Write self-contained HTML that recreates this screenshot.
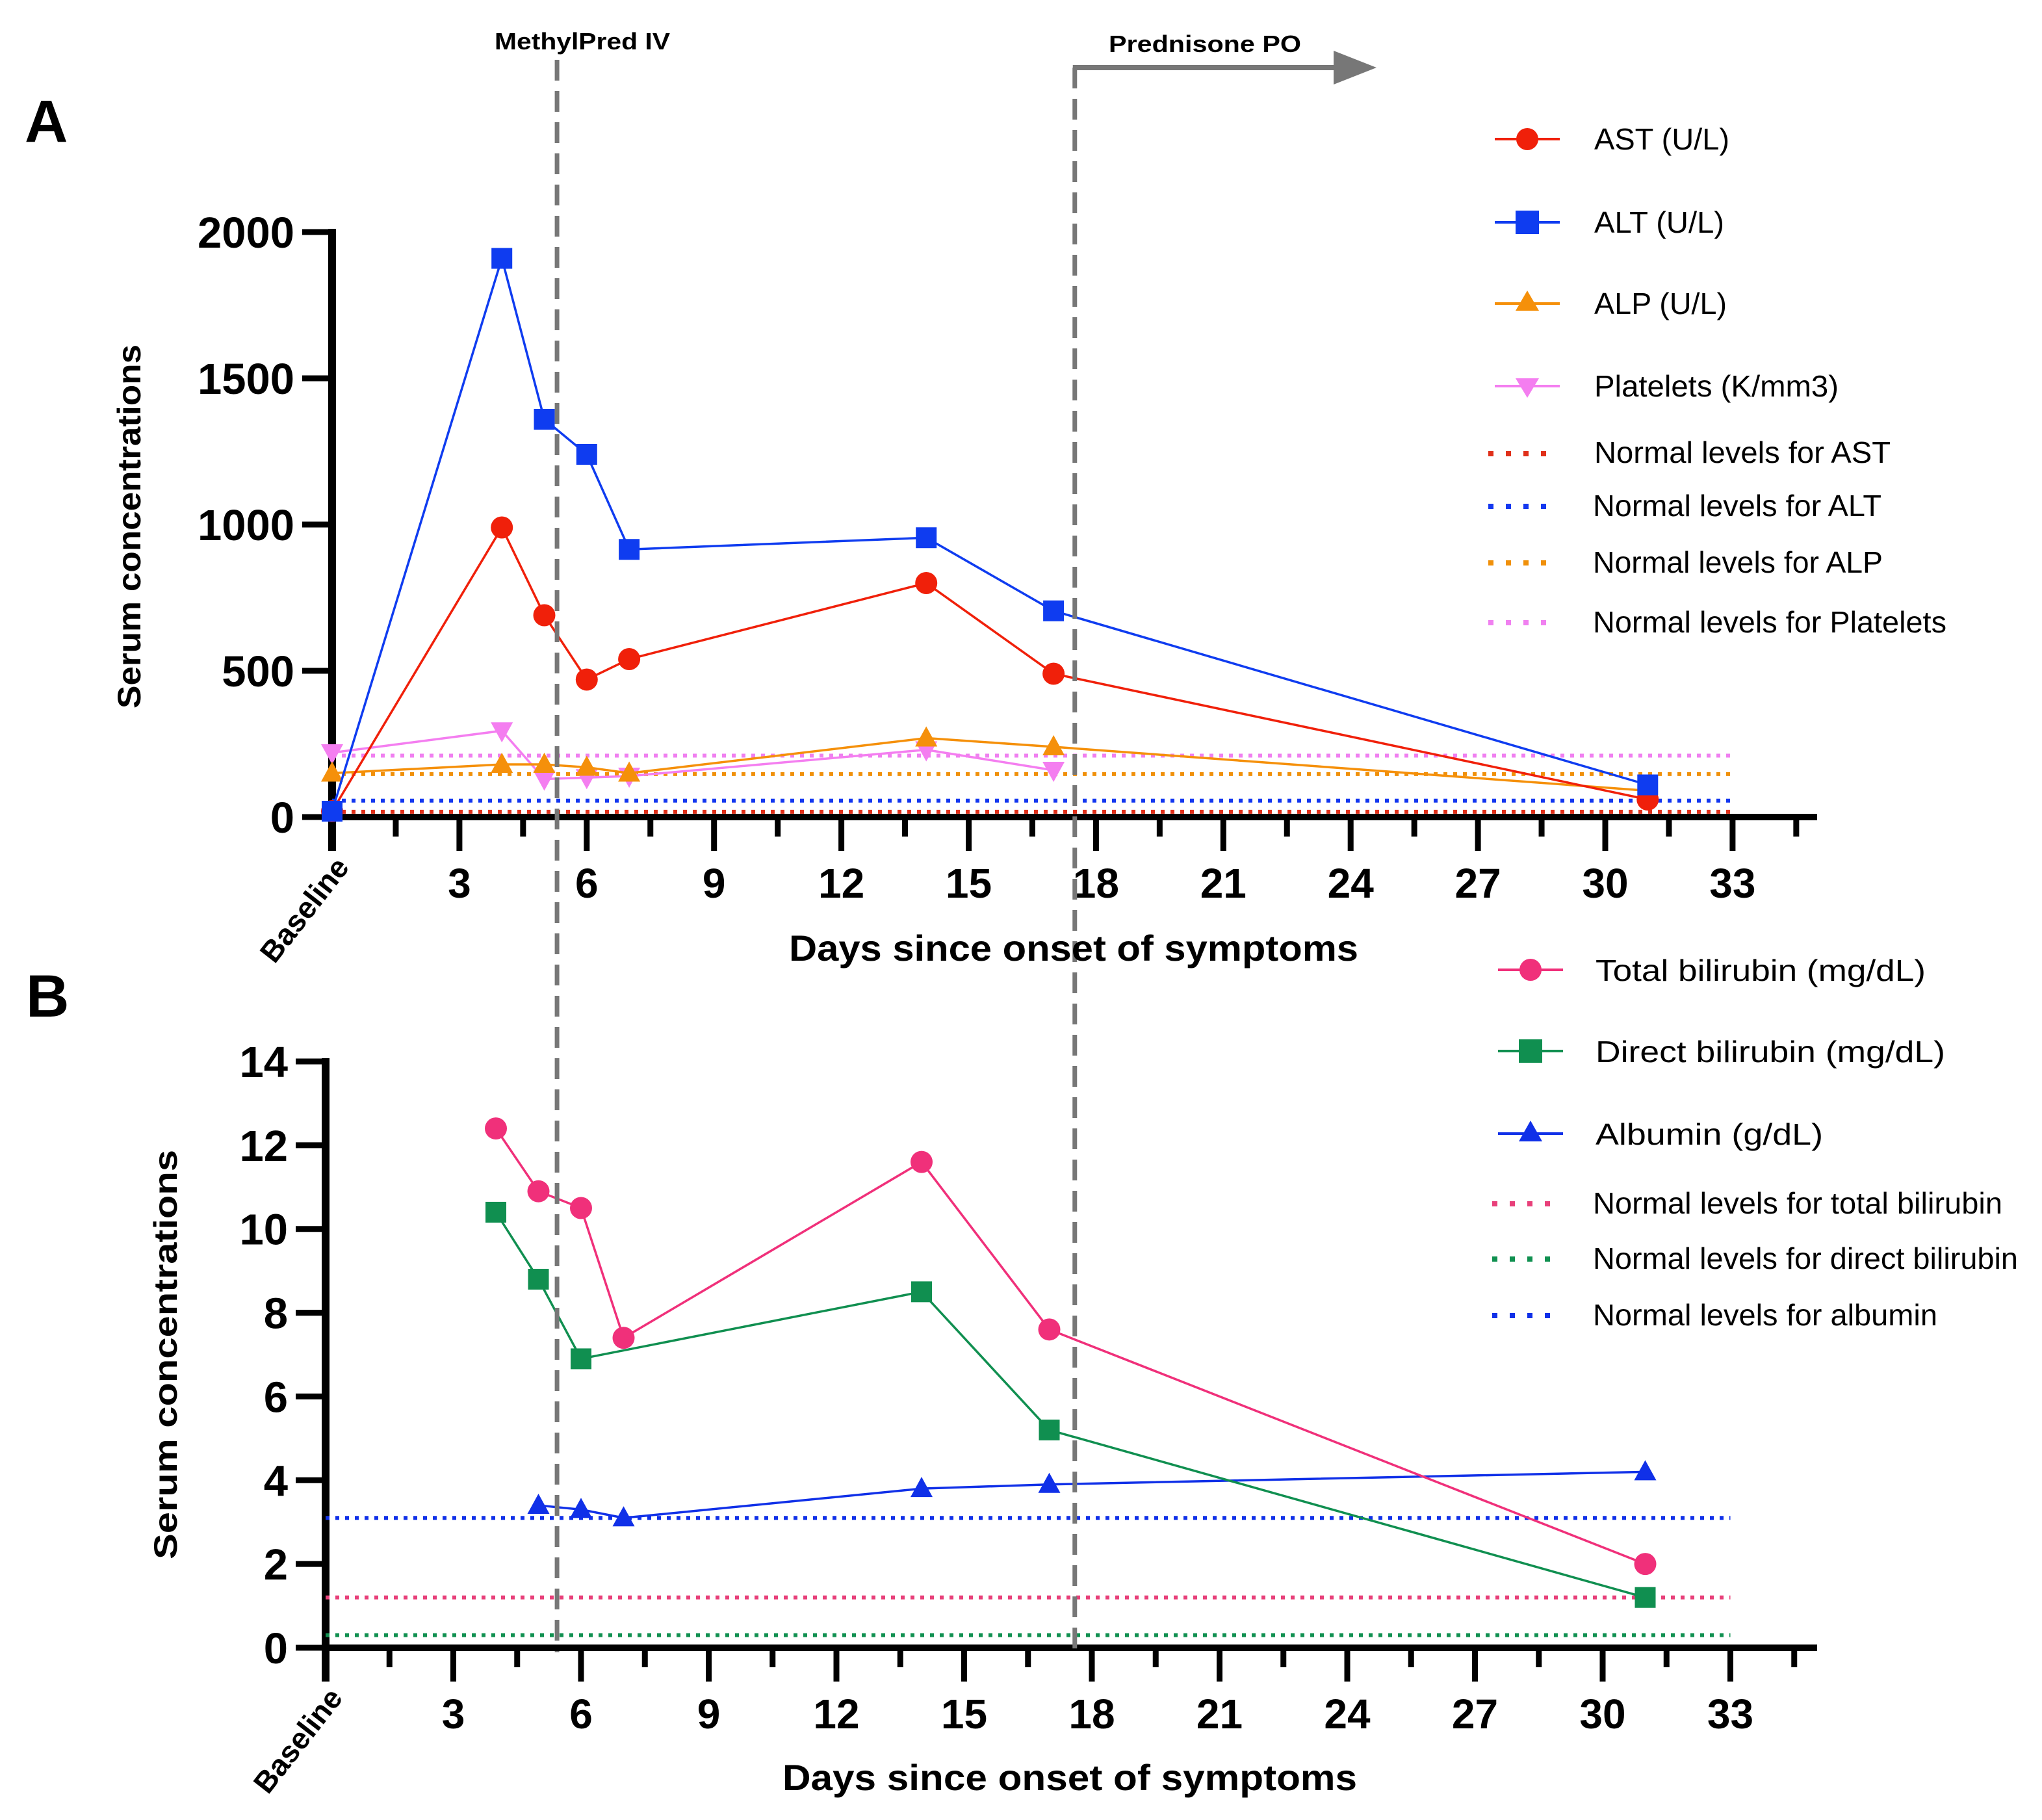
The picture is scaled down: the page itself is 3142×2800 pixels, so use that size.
<!DOCTYPE html>
<html><head><meta charset="utf-8"><style>
html,body{margin:0;padding:0;background:#fff}
svg{display:block}
text{font-family:"Liberation Sans",Arial,sans-serif}
</style></head><body>
<svg id="chart" width="3142" height="2800" viewBox="0 0 3142 2800" xmlns="http://www.w3.org/2000/svg"></svg>
<script>
// ---------- Panel A data ----------
const daysA = [0, 4, 5, 6, 7, 14, 17, 31];
const astValues = [20, 990, 690, 470, 540, 800, 490, 60];
const altValues = [20, 1910, 1360, 1240, 915, 955, 705, 110];
const alpDays = [0, 4, 5, 6, 7, 14, 17, 31];
const alpValues = [150, 180, 180, 170, 150, 270, 240, 90];
const pltDays = [0, 4, 5, 6, 7, 14, 17];
const pltValues = [220, 295, 130, 135, 140, 230, 160];
const normalA = [18, 56, 147, 210]; // AST, ALT, ALP, Platelets
const yTicksA = [0, 500, 1000, 1500, 2000];
// ---------- Panel B data ----------
const totalDays = [4, 5, 6, 7, 14, 17, 31];
const totalValues = [12.4, 10.9, 10.5, 7.4, 11.6, 7.6, 2.0];
const directDays = [4, 5, 6, 14, 17, 31];
const directValues = [10.4, 8.8, 6.9, 8.5, 5.2, 1.2];
const albDays = [5, 6, 7, 14, 17, 31];
const albValues = [3.4, 3.3, 3.1, 3.8, 3.9, 4.2];
const normalB = [1.2, 0.3, 3.1]; // total, direct, albumin
const yTicksB = [0, 2, 4, 6, 8, 10, 12, 14];
const xTickLabels = [3, 6, 9, 12, 15, 18, 21, 24, 27, 30, 33];
const eventDays = [5.3, 17.5];

const svg = document.getElementById('chart');
const NS = 'http://www.w3.org/2000/svg';
function mk(tag, attrs, parent) {
  const e = document.createElementNS(NS, tag);
  for (const k in attrs) e.setAttribute(k, attrs[k]);
  (parent || svg).appendChild(e);
  return e;
}

const A = {x0: 511, y0: 1257, pxDay: 65.3, ymax: 2000, ytop: 357};
const B = {x0: 501, y0: 2535, pxDay: 65.5, ymax: 14, ytop: 1633};
function sx(P, d) { return P.x0 + d * P.pxDay; }
function sy(P, v) { return P.y0 - v / P.ymax * (P.y0 - P.ytop); }

function marker(g, shape, x, y, color) {
  let m;
  if (shape === 'circle') m = mk('circle', {cx: x, cy: y, r: 17, fill: color}, g);
  else if (shape === 'square') m = mk('rect', {x: x - 16, y: y - 16, width: 32, height: 32, fill: color}, g);
  else if (shape === 'tri') m = mk('polygon', {points: `${x},${y-18} ${x+17},${y+13} ${x-17},${y+13}`, fill: color}, g);
  else m = mk('polygon', {points: `${x},${y+18} ${x+17},${y-13} ${x-17},${y-13}`, fill: color}, g);
  return m;
}

function series(P, name, days, vals, color, shape) {
  const g = mk('g', {});
  
  
  const pts = days.map((d, i) => sx(P, d) + ',' + sy(P, vals[i])).join(' ');
  const l = mk('polyline', {points: pts, fill: 'none', stroke: color, 'stroke-width': 3.5}, g);
  
  
  days.forEach((d, i) => {
    const m = marker(g, shape, sx(P, d), sy(P, vals[i]), color);
    
    
  });
}

function normalLine(P, name, v, color) {
  const l = mk('line', {x1: sx(P, 0), x2: sx(P, 33), y1: sy(P, v), y2: sy(P, v), stroke: color, 'stroke-width': 6, 'stroke-dasharray': '6 9'});
  
  
}

function axes(P, yTicks, prefix) {
  const g = mk('g', {});
  
  
  mk('line', {x1: P.x0, x2: P.x0, y1: P.ytop - 5, y2: P.y0 + 52, stroke: '#000', 'stroke-width': 12}, g);
  mk('line', {x1: P.x0 - 6, x2: 2796, y1: P.y0, y2: P.y0, stroke: '#000', 'stroke-width': 10}, g);
  yTicks.forEach(v => {
    const y = sy(P, v);
    mk('line', {x1: P.x0 - 46, x2: P.x0, y1: y, y2: y, stroke: '#000', 'stroke-width': 9}, g);
    const t = mk('text', {x: P.x0 - 58, y: y + 24, 'text-anchor': 'end', 'font-size': 67, 'font-weight': 'bold'}, g);
    t.textContent = v;
    
    
  });
  for (let k = 1; k <= 23; k++) {
    const d = k * 1.5;
    const x = sx(P, d);
    const major = k % 2 === 0;
    mk('line', {x1: x, x2: x, y1: P.y0, y2: P.y0 + (major ? 52 : 30), stroke: '#000', 'stroke-width': 9}, g);
  }
  xTickLabels.forEach(d => {
    const t = mk('text', {x: sx(P, d), y: P.y0 + 124, 'text-anchor': 'middle', 'font-size': 64, 'font-weight': 'bold'}, g);
    t.textContent = d;
    
    
  });
  const bl = mk('text', {x: 0, y: 0, 'text-anchor': 'end', 'font-size': 46, 'font-weight': 'bold', transform: `translate(${P.x0 + 28},${P.y0 + 78}) rotate(-52)`}, g);
  bl.textContent = 'Baseline';
  
  
}

axes(A, yTicksA, 'panel-a');
axes(B, yTicksB, 'panel-b');

normalLine(A, 'normal-ast-line', normalA[0], '#e0301a');
normalLine(A, 'normal-alt-line', normalA[1], '#1438f0');
normalLine(A, 'normal-alp-line', normalA[2], '#f0900a');
normalLine(A, 'normal-platelets-line', normalA[3], '#f080f0');
series(A, 'platelets', pltDays, pltValues, '#f47ef0', 'down');
series(A, 'alp', alpDays, alpValues, '#f5900a', 'tri');
series(A, 'ast', daysA, astValues, '#f0200a', 'circle');
series(A, 'alt', daysA, altValues, '#0f3cf0', 'square');

normalLine(B, 'normal-total-bilirubin-line', normalB[0], '#e8407a');
normalLine(B, 'normal-direct-bilirubin-line', normalB[1], '#109050');
normalLine(B, 'normal-albumin-line', normalB[2], '#1030e8');
series(B, 'albumin', albDays, albValues, '#1030e8', 'tri');
series(B, 'direct-bilirubin', directDays, directValues, '#108f50', 'square');
series(B, 'total-bilirubin', totalDays, totalValues, '#f0307a', 'circle');

eventDays.forEach((d, i) => {
  const x = sx(A, d);
  const l = mk('line', {x1: x, x2: x, y1: i === 0 ? 92 : 104, y2: 2542, stroke: '#777', 'stroke-width': 7, 'stroke-dasharray': '32 16'});
  
  
});
const arr = mk('g', {});


mk('line', {x1: sx(A, eventDays[1]) - 3, x2: 2060, y1: 104, y2: 104, stroke: '#777', 'stroke-width': 8}, arr);
mk('polygon', {points: '2052,78 2118,104 2052,130', fill: '#777'}, arr);
</script>
<svg style="position:absolute;left:0;top:0" width="3142" height="2800">
<g font-family="Liberation Sans, Arial, sans-serif">
<text x="896" y="76" text-anchor="middle" font-size="36" font-weight="bold" textLength="270" lengthAdjust="spacingAndGlyphs">MethylPred IV</text>
<text x="1854" y="80" text-anchor="middle" font-size="36" font-weight="bold" textLength="296" lengthAdjust="spacingAndGlyphs">Prednisone PO</text>
<text x="38" y="218" font-size="92" font-weight="bold">A</text>
<text x="40" y="1564" font-size="92" font-weight="bold">B</text>
<text transform="translate(216,810) rotate(-90)" text-anchor="middle" font-size="50" font-weight="bold" textLength="560" lengthAdjust="spacingAndGlyphs">Serum concentrations</text>
<text transform="translate(272,2084) rotate(-90)" text-anchor="middle" font-size="50" font-weight="bold" textLength="630" lengthAdjust="spacingAndGlyphs">Serum concentrations</text>
<text x="1652" y="1478" text-anchor="middle" font-size="56" font-weight="bold" textLength="876" lengthAdjust="spacingAndGlyphs">Days since onset of symptoms</text>
<text x="1646" y="2754" text-anchor="middle" font-size="56" font-weight="bold" textLength="884" lengthAdjust="spacingAndGlyphs">Days since onset of symptoms</text>
</g>
<g font-family="Liberation Sans, Arial, sans-serif" font-size="46">
<g><line x1="2300" x2="2400" y1="214" y2="214" stroke="#f0200a" stroke-width="4"/><circle cx="2350" cy="214" r="17" fill="#f0200a"/><text x="2453" y="230" textLength="208" lengthAdjust="spacingAndGlyphs">AST (U/L)</text></g>
<g><line x1="2300" x2="2400" y1="342" y2="342" stroke="#0f3cf0" stroke-width="4"/><rect x="2332" y="324" width="36" height="36" fill="#0f3cf0"/><text x="2453" y="358" textLength="200" lengthAdjust="spacingAndGlyphs">ALT (U/L)</text></g>
<g><line x1="2300" x2="2400" y1="467" y2="467" stroke="#f5900a" stroke-width="4"/><polygon points="2350,447 2368,478 2332,478" fill="#f5900a"/><text x="2453" y="483" textLength="204" lengthAdjust="spacingAndGlyphs">ALP (U/L)</text></g>
<g><line x1="2300" x2="2400" y1="594" y2="594" stroke="#f47ef0" stroke-width="4"/><polygon points="2350,612 2368,582 2332,582" fill="#f47ef0"/><text x="2453" y="610" textLength="376" lengthAdjust="spacingAndGlyphs">Platelets (K/mm3)</text></g>
<g><line x1="2290" x2="2392" y1="698" y2="698" stroke="#e0301a" stroke-width="8" stroke-dasharray="8 19"/><text x="2453" y="712" textLength="456" lengthAdjust="spacingAndGlyphs">Normal levels for AST</text></g>
<g><line x1="2290" x2="2392" y1="779" y2="779" stroke="#1438f0" stroke-width="8" stroke-dasharray="8 19"/><text x="2451" y="794" textLength="444" lengthAdjust="spacingAndGlyphs">Normal levels for ALT</text></g>
<g><line x1="2290" x2="2392" y1="866" y2="866" stroke="#f0900a" stroke-width="8" stroke-dasharray="8 19"/><text x="2451" y="881" textLength="446" lengthAdjust="spacingAndGlyphs">Normal levels for ALP</text></g>
<g><line x1="2290" x2="2392" y1="958" y2="958" stroke="#f080f0" stroke-width="8" stroke-dasharray="8 19"/><text x="2451" y="973" textLength="544" lengthAdjust="spacingAndGlyphs">Normal levels for Platelets</text></g>
</g>
<g font-family="Liberation Sans, Arial, sans-serif" font-size="46">
<g><line x1="2305" x2="2405" y1="1492" y2="1492" stroke="#f0307a" stroke-width="4"/><circle cx="2355" cy="1492" r="17" fill="#f0307a"/><text x="2455" y="1509" textLength="508" lengthAdjust="spacingAndGlyphs">Total bilirubin (mg/dL)</text></g>
<g><line x1="2305" x2="2405" y1="1617" y2="1617" stroke="#108f50" stroke-width="4"/><rect x="2337" y="1599" width="36" height="36" fill="#108f50"/><text x="2455" y="1634" textLength="538" lengthAdjust="spacingAndGlyphs">Direct bilirubin (mg/dL)</text></g>
<g><line x1="2305" x2="2405" y1="1744" y2="1744" stroke="#1030e8" stroke-width="4"/><polygon points="2355,1724 2373,1756 2337,1756" fill="#1030e8"/><text x="2455" y="1761" textLength="350" lengthAdjust="spacingAndGlyphs">Albumin (g/dL)</text></g>
<g><line x1="2296" x2="2398" y1="1852" y2="1852" stroke="#e8407a" stroke-width="8" stroke-dasharray="8 19"/><text x="2451" y="1867" textLength="630" lengthAdjust="spacingAndGlyphs">Normal levels for total bilirubin</text></g>
<g><line x1="2296" x2="2398" y1="1937" y2="1937" stroke="#109050" stroke-width="8" stroke-dasharray="8 19"/><text x="2451" y="1952" textLength="654" lengthAdjust="spacingAndGlyphs">Normal levels for direct bilirubin</text></g>
<g><line x1="2296" x2="2398" y1="2024" y2="2024" stroke="#1030e8" stroke-width="8" stroke-dasharray="8 19"/><text x="2451" y="2039" textLength="530" lengthAdjust="spacingAndGlyphs">Normal levels for albumin</text></g>
</g>
</svg>
</body></html>
